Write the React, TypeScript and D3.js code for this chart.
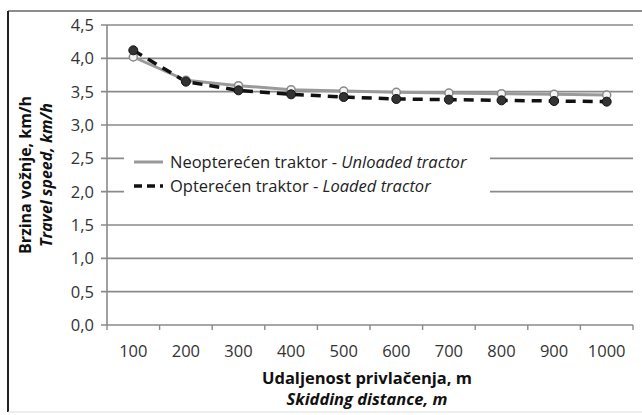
import * as d3 from "d3";

// Skidding distance, m
const distances = ["100", "200", "300", "400", "500", "600", "700", "800", "900", "1000"];
// Neopterećen traktor - Unloaded tractor
const unloaded = [4.02, 3.67, 3.59, 3.53, 3.51, 3.49, 3.48, 3.47, 3.46, 3.45];
// Opterećen traktor - Loaded tractor
const loaded = [4.12, 3.65, 3.52, 3.46, 3.42, 3.39, 3.38, 3.37, 3.36, 3.35];
const yTicks = [0, 0.5, 1, 1.5, 2, 2.5, 3, 3.5, 4, 4.5];

const W = 642;
const H = 415;
const plot = { left: 107, right: 633, top: 25, bottom: 325 };
const font = "'Open Sans', Lato, sans-serif";

export default function App() {
  const x = d3.scaleBand().domain(distances).range([plot.left, plot.right]);
  const y = d3.scaleLinear().domain([0, 4.5]).range([plot.bottom, plot.top]);
  const cx = (d: string) => (x(d) as number) + x.bandwidth() / 2;

  const line = d3.line<number>()
    .x((_, i) => cx(distances[i]))
    .y(v => y(v));

  const fmt = (v: number) => v.toFixed(1).replace(".", ",");

  return (
    <svg width={W} height={H} style={{ position: "absolute", left: 0, top: 0, background: "#fff" }}>
      {/* frame */}
      <line x1={8} x2={W} y1={11} y2={11} stroke="#666" strokeWidth={1.5} />
      <line x1={8} x2={8} y1={11} y2={412} stroke="#222" strokeWidth={2} />
      <line x1={8} x2={W} y1={412} y2={412} stroke="#ddd" strokeWidth={1} />

      {/* gridlines + y ticks */}
      {yTicks.map(t => (
        <g key={t}>
          <line x1={plot.left - 6} x2={plot.right} y1={y(t)} y2={y(t)} stroke="#8a8a8a" strokeWidth={1.6} />
          <text x={94} y={y(t)} dy="0.36em" textAnchor="end" fontFamily={font} fontSize={16.5} fill="#333">
            {fmt(t)}
          </text>
        </g>
      ))}

      {/* axes */}
      <line x1={plot.left} x2={plot.left} y1={plot.top} y2={plot.bottom} stroke="#8a8a8a" strokeWidth={1.6} />
      {d3.range(distances.length + 1).map(i => {
        const px = plot.left + i * x.bandwidth();
        return <line key={i} x1={px} x2={px} y1={plot.bottom} y2={plot.bottom + 5} stroke="#8a8a8a" strokeWidth={1.4} />;
      })}
      {distances.map(d => (
        <text key={d} x={cx(d)} y={357} textAnchor="middle" fontFamily={font} fontSize={16.5} fill="#333">
          {d}
        </text>
      ))}

      {/* legend */}
      <rect x={124} y={148} width={366} height={50} fill="#fff" />
      <line x1={134} x2={163} y1={162} y2={162} stroke="#999" strokeWidth={3} />
      <line x1={134} x2={163} y1={186} y2={186} stroke="#111" strokeWidth={3.5} strokeDasharray="8,5" />
      <text x={170} y={162} dy="0.36em" fontFamily={font} fontSize={16.5} fill="#222">
        Neopterećen traktor - <tspan fontStyle="italic">Unloaded tractor</tspan>
      </text>
      <text x={170} y={186} dy="0.36em" fontFamily={font} fontSize={16.5} fill="#222">
        Opterećen traktor - <tspan fontStyle="italic">Loaded tractor</tspan>
      </text>

      {/* series */}
      <path d={line(unloaded) as string} fill="none" stroke="#9a9a9a" strokeWidth={3} />
      <path d={line(loaded) as string} fill="none" stroke="#111" strokeWidth={3.5} strokeDasharray="10,7" />
      {unloaded.map((v, i) => (
        <circle key={"u" + i} cx={cx(distances[i])} cy={y(v)} r={4} fill="#f4f4f4" stroke="#888" strokeWidth={1.5} />
      ))}
      {loaded.map((v, i) => (
        <circle key={"l" + i} cx={cx(distances[i])} cy={y(v)} r={4.5} fill="#333" stroke="#111" strokeWidth={1} />
      ))}

      {/* axis titles */}
      <text x={367} y={384} textAnchor="middle" fontFamily={font} fontSize={16.5} fontWeight="bold" fill="#111">
        Udaljenost privlačenja, m
      </text>
      <text x={367} y={405} textAnchor="middle" fontFamily={font} fontSize={16.5} fontWeight="bold" fontStyle="italic" fill="#111">
        Skidding distance, m
      </text>
      <text transform="translate(31,175) rotate(-90)" textAnchor="middle" fontFamily={font} fontSize={16} fontWeight="bold" fill="#111">
        Brzina vožnje, km/h
      </text>
      <text transform="translate(52,175) rotate(-90)" textAnchor="middle" fontFamily={font} fontSize={16} fontWeight="bold" fontStyle="italic" fill="#111">
        Travel speed, km/h
      </text>
    </svg>
  );
}
